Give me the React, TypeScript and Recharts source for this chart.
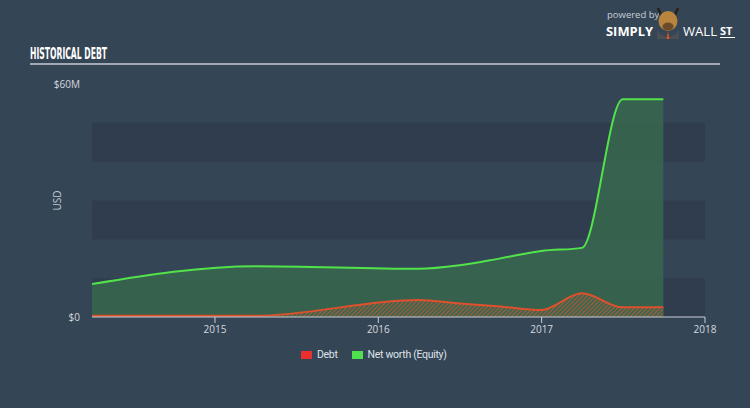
import React from 'react';
import {
  AreaChart,
  Area,
  XAxis,
  YAxis,
  ReferenceArea,
} from 'recharts';

// tanggal dalam tahun desimal (akhir kuartal)
const dates = [2014.247, 2015.247, 2016.247, 2016.497, 2016.747, 2016.997, 2017.247, 2017.496, 2017.745];
// nilai dalam juta USD
const debt = [0.3, 0.3, 4.4, 3.5, 2.7, 1.8, 6.1, 2.5, 2.5];
const netWorth = [8.5, 13.1, 12.4, 13.3, 15.1, 17.0, 17.8, 56.1, 56.1];

const xTicks = [2015, 2016, 2017, 2018];
const yTicks = [0, 60];
const bands: [number, number][] = [[0, 10], [20, 30], [40, 50]];

const legendNames = ['Debt', 'Net worth (Equity)'];
const legendColors = ['#e8302c', '#4fe04b'];

const data = dates.map((d, i) => ({ date: d, debt: debt[i], netWorth: netWorth[i] }));

const BG = '#344556';
const FONT = '"Open Sans", "DejaVu Sans", sans-serif';

const formatMoney = (v: number) => (v === 0 ? '$0' : `$${v}M`);

const Logo = () => (
  <svg width={150} height={45} style={{ position: 'absolute', left: 600, top: 0 }}>
    <text x={7} y={18} fontSize={9.5} fill="#c9ced4" fontFamily={FONT}>powered by</text>
    <text x={6} y={36} fontSize={13} fontWeight={700} fill="#ffffff" fontFamily={FONT} textLength={47} lengthAdjust="spacingAndGlyphs">SIMPLY</text>
    {/* kepala banteng sederhana */}
    <path d="M58 8 L61 15 M78 8 L75 15" stroke="#2a2018" strokeWidth={2.5} />
    <path d="M57 30 Q68 44 79 30 L79 39 L57 39 Z" fill="#4a4f55" />
    <ellipse cx={68} cy={21} rx={9.5} ry={10} fill="#b8853f" />
    <ellipse cx={68} cy={26.5} rx={5.5} ry={4} fill="#6b4a2a" />
    <path d="M68 31 L66.5 39 L69.5 39 Z" fill="#e05020" />
    <text x={83} y={36} fontSize={13} fill="#ffffff" fontFamily={FONT} textLength={34} lengthAdjust="spacingAndGlyphs">WALL</text>
    <text x={120} y={35} fontSize={11} fontWeight={700} fill="#ffffff" fontFamily={FONT}>ST</text>
    <line x1={120} y1={37.5} x2={135} y2={37.5} stroke="#ffffff" strokeWidth={1} />
  </svg>
);

const App: React.FC = () => {
  return (
    <div
      style={{
        position: 'absolute',
        left: 0,
        top: 0,
        width: 750,
        height: 408,
        background: BG,
        overflow: 'hidden',
        fontFamily: FONT,
      }}
    >
      <svg width={750} height={70} style={{ position: 'absolute', left: 0, top: 0 }}>
        <text
          x={30}
          y={59}
          fontSize={16}
          fontWeight={700}
          fill="#ffffff"
          fontFamily='"DejaVu Sans Condensed", "Liberation Sans Narrow", sans-serif'
          textLength={77}
          lengthAdjust="spacingAndGlyphs"
        >
          HISTORICAL DEBT
        </text>
        <line x1={30} y1={64} x2={720} y2={64} stroke="#c7ced6" strokeWidth={1.5} />
      </svg>
      <Logo />

      <div style={{ position: 'absolute', left: 0, top: 0 }}>
        <AreaChart
          width={750}
          height={408}
          data={data}
          margin={{ top: 84, right: 45, left: 52, bottom: 61 }}
        >
          <defs>
            <pattern id="debtHatch" patternUnits="userSpaceOnUse" width={3} height={3} patternTransform="rotate(45)">
              <rect width={3} height={3} fill="#3c6650" />
              <line x1={0} y1={0} x2={0} y2={3} stroke="#c9582f" strokeWidth={1.6} />
            </pattern>
          </defs>

          {bands.map(([y1, y2]) => (
            <ReferenceArea
              key={y1}
              x1={2014.247}
              x2={2018}
              y1={y1}
              y2={y2}
              fill="#2f3d4e"
              fillOpacity={1}
              stroke="none"
              ifOverflow="visible"
            />
          ))}

          <XAxis
            dataKey="date"
            type="number"
            domain={[2014.247, 2018]}
            ticks={xTicks}
            allowDataOverflow
            tickFormatter={(v: number) => String(v)}
            stroke="#c9d0d7"
            tick={{ fill: '#d4d9de', fontSize: 10, fontFamily: FONT }}
            tickSize={6}
            tickMargin={3}
          />
          <YAxis
            type="number"
            domain={[0, 60]}
            ticks={yTicks}
            width={40}
            axisLine={false}
            tickLine={false}
            tickSize={0}
            tickMargin={12}
            tickFormatter={formatMoney}
            tick={{ fill: '#d4d9de', fontSize: 10, fontFamily: FONT }}
            label={{
              value: 'USD',
              angle: -90,
              position: 'insideLeft',
              offset: 5,
              fill: '#c4cbd2',
              fontSize: 10,
              style: { textAnchor: 'middle' },
            }}
          />

          <Area
            type="monotone"
            dataKey="netWorth"
            stroke="#52e34b"
            strokeWidth={2}
            fill="#37674d"
            fillOpacity={0.85}
            isAnimationActive={false}
            dot={false}
            activeDot={false}
          />
          <Area
            type="monotone"
            dataKey="debt"
            stroke="#e0502d"
            strokeWidth={2}
            fill="url(#debtHatch)"
            fillOpacity={1}
            isAnimationActive={false}
            dot={false}
            activeDot={false}
          />
        </AreaChart>
      </div>

      <div
        style={{
          position: 'absolute',
          left: 301,
          top: 348,
          display: 'flex',
          alignItems: 'center',
          fontSize: 10.5,
          fontFamily: '"Roboto", "DejaVu Sans Condensed", sans-serif',
          letterSpacing: -0.3,
          color: '#dfe3e7',
        }}
      >
        {legendNames.map((name, i) => (
          <div key={name} style={{ display: 'flex', alignItems: 'center', marginRight: i === 0 ? 14 : 0 }}>
            <span style={{ display: 'inline-block', width: 11, height: 8, background: legendColors[i], marginRight: 5 }} />
            <span>{name}</span>
          </div>
        ))}
      </div>
    </div>
  );
};

export default App;
